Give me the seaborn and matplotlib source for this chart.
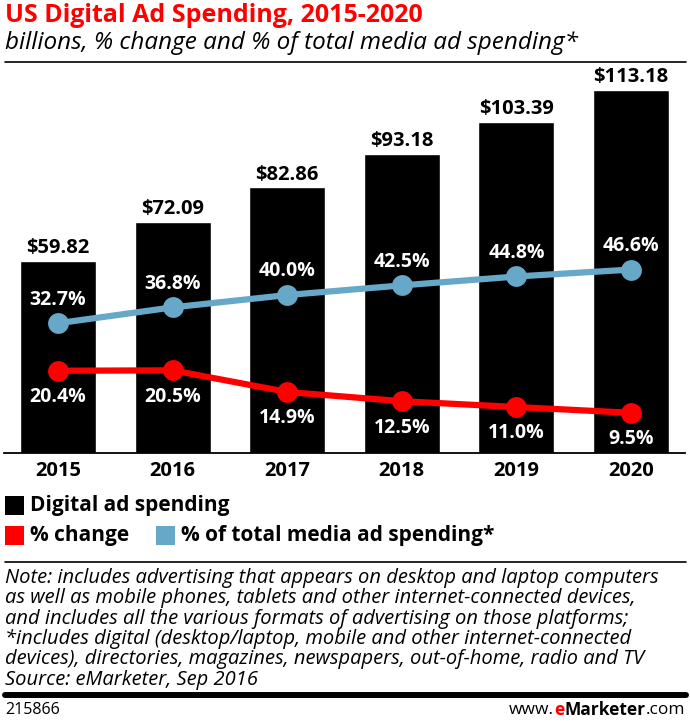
import numpy as np
import seaborn as sns
import matplotlib.pyplot as plt
from matplotlib.patches import Rectangle
from matplotlib.lines import Line2D

years = ["2015", "2016", "2017", "2018", "2019", "2020"]
spending = [59.82, 72.09, 82.86, 93.18, 103.39, 113.18]
pct_change = [20.4, 20.5, 14.9, 12.5, 11.0, 9.5]
pct_total = [32.7, 36.8, 40.0, 42.5, 44.8, 46.6]

title = "US Digital Ad Spending, 2015-2020"
subtitle = "billions, % change and % of total media ad spending*"
note_lines = [
    "Note: includes advertising that appears on desktop and laptop computers",
    "as well as mobile phones, tablets and other internet-connected devices,",
    "and includes all the various formats of advertising on those platforms;",
    "*includes digital (desktop/laptop, mobile and other internet-connected",
    "devices), directories, magazines, newspapers, out-of-home, radio and TV",
    "Source: eMarketer, Sep 2016",
]

RED = "#ff0000"
BLUE = "#67a8c8"
W, H = 690, 725

sns.set_theme(style="white")
plt.rcParams["font.family"] = ["Open Sans", "DejaVu Sans"]


def fx(px):
    return px / W


def fy(py):
    return 1 - py / H


fig = plt.figure(figsize=(W / 100, H / 100), dpi=100)
ax = fig.add_axes([fx(4), fy(453), fx(681), (453 - 66) / H])

sns.barplot(x=years, y=spending, color="black", width=0.663, saturation=1, ax=ax)
ax.set_xlim(-0.47, 5.47)
ax.set_ylim(0, 120.7)
ax.bar_label(ax.containers[0], labels=[f"${v:.2f}" for v in spending],
             padding=2, fontsize=14.5, fontweight="bold", color="black")

ax2 = ax.twinx()
xpos = np.arange(len(years))
sns.lineplot(x=xpos, y=pct_total, color=BLUE, linewidth=4.5, marker="o",
             markersize=15, markeredgewidth=0, ax=ax2)
sns.lineplot(x=xpos, y=pct_change, color=RED, linewidth=4.5, marker="o",
             markersize=15, markeredgewidth=0, ax=ax2)
ax2.set_ylim(-0.9, 99.3)
ax2.set_xlim(-0.47, 5.47)

for i, v in enumerate(pct_total):
    ax2.annotate(f"{v:.1f}%", (i, v), xytext=(0, 17), textcoords="offset points",
                 ha="center", va="center", color="white", fontsize=14,
                 fontweight="bold")
for i, v in enumerate(pct_change):
    ax2.annotate(f"{v:.1f}%", (i, v), xytext=(0, -19), textcoords="offset points",
                 ha="center", va="center", color="white", fontsize=14,
                 fontweight="bold")

for a in (ax, ax2):
    a.set_ylabel("")
    a.set_yticks([])
    for s in ["top", "left", "right"]:
        a.spines[s].set_visible(False)
ax2.spines["bottom"].set_visible(False)
ax.spines["bottom"].set_color("black")
ax.spines["bottom"].set_linewidth(1.3)
ax.set_xlabel("")
ax.tick_params(axis="x", length=0, pad=6)
for lab in ax.get_xticklabels():
    lab.set_fontsize(14.5)
    lab.set_fontweight("bold")
    lab.set_color("black")

# header
fig.text(fx(5), fy(16), title, color=RED, fontsize=18, fontweight="bold",
         va="center", ha="left")
fig.text(fx(5), fy(43), subtitle, color="black", fontsize=17.5, style="italic",
         va="center", ha="left")
fig.add_artist(Line2D([fx(5), fx(686)], [fy(62), fy(62)], color="black", lw=1.2))

# legend
legend_items = [
    (5, 506, "black", "Digital ad spending"),
    (5, 536, RED, "% change"),
    (156, 536, BLUE, "% of total media ad spending*"),
]
for x0, yc, col, txt in legend_items:
    fig.add_artist(Rectangle((fx(x0), fy(yc + 9)), fx(19), 19 / H, color=col, lw=0))
    fig.text(fx(x0 + 25), fy(yc), txt, fontsize=15, fontweight="bold",
             va="center", ha="left", color="black")
fig.add_artist(Line2D([fx(5), fx(686)], [fy(562), fy(562)], color="black", lw=1.2))

# notes
for k, line in enumerate(note_lines):
    fig.text(fx(5), fy(578 + 20.3 * k), line, fontsize=14.5, style="italic",
             va="center", ha="left", color="black")
fig.add_artist(Line2D([fx(5), fx(686)], [fy(695), fy(695)], color="black", lw=4.3))

# footer
fig.text(fx(5), fy(710), "215866", fontsize=11.5, va="center", ha="left", color="black")
fig.canvas.draw()
renderer = fig.canvas.get_renderer()
right = fx(685)
for txt, col, wt in [(".com", "black", "normal"), ("Marketer", "black", "bold"),
                     ("e", RED, "bold"), ("www.", "black", "normal")]:
    t = fig.text(right, fy(710), txt, fontsize=12.5, va="center", ha="right",
                 color=col, fontweight=wt)
    bb = t.get_window_extent(renderer)
    right -= bb.width / (W)

fig.savefig("out.png", dpi=100)
